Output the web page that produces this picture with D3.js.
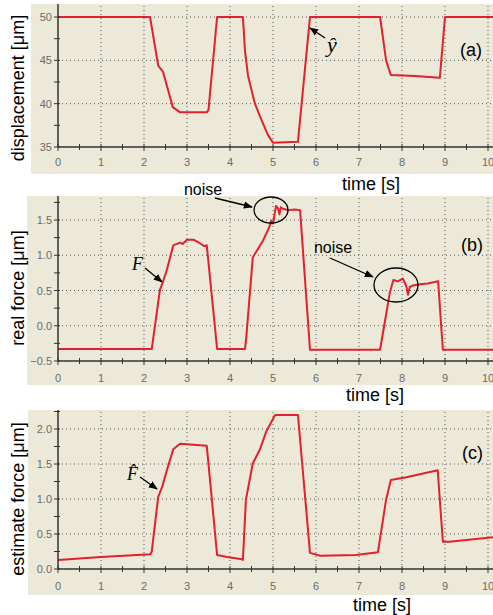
<!DOCTYPE html>
<meta charset="utf-8">
<style>
body { margin:0; background:#fff; }
svg { display:block; font-family: Arial, "Liberation Sans", sans-serif; }
.plotbg { fill:#ece9d8; }
.grid line { stroke:#555; stroke-width:1; stroke-dasharray:1,3; }
.axisline { stroke:#333; stroke-width:1.5; }
.tick { stroke:#333; stroke-width:1; }
.ticklabel { fill:#6a6a6a; font-size:11px; }
.trace { fill:none; stroke:#e3202c; stroke-width:2; stroke-linejoin:round; }
.note { stroke:#000; stroke-width:1.3; fill:none; }
</style>
<body>
<script src="https://cdnjs.cloudflare.com/ajax/libs/d3/7.8.5/d3.min.js"></script>
<script>

var width = 493, height = 615;

// time axis
var timeTicks = [0,1,2,3,4,5,6,7,8,9,10];

// (a) displacement [um], [t, value]
var displacement = [
  [0,50],[2.14,50],[2.33,44.4],[2.44,43.7],[2.67,39.6],[2.84,39.0],[3.46,39.0],[3.5,39.3],
  [3.7,50],[4.3,50],[4.35,46],[4.42,43.2],[4.58,40],[4.7,38.5],[4.88,36.4],[5.0,35.5],
  [5.58,35.6],[5.86,50],[7.49,50],[7.63,45],[7.74,43.3],[8.3,43.2],[8.88,43.0],[9.0,50],[10.2,50]
];
var dispTicks = [35,40,45,50];

// (b) real force [um]
var realForce = [
  [0,-0.33],[2.18,-0.33],[2.37,0.51],[2.44,0.62],[2.53,0.79],[2.68,1.14],[2.84,1.18],[2.9,1.16],
  [3.0,1.22],[3.15,1.22],[3.25,1.19],[3.3,1.17],[3.4,1.13],[3.46,1.14],[3.7,-0.33],[4.35,-0.33],
  [4.38,-0.15],[4.53,0.97],[4.77,1.21],[4.9,1.38],[4.96,1.49],[5.0,1.45],[5.07,1.70],[5.12,1.66],
  [5.15,1.58],[5.18,1.68],[5.23,1.66],[5.35,1.64],[5.5,1.65],[5.63,1.64],[5.86,-0.34],[7.49,-0.34],
  [7.72,0.48],[7.8,0.65],[7.9,0.63],[8.02,0.67],[8.1,0.56],[8.14,0.44],[8.18,0.55],[8.25,0.57],
  [8.42,0.59],[8.6,0.60],[8.84,0.63],[8.95,-0.34],[10.2,-0.34]
];
var realTicks = [-0.5,0.0,0.5,1.0,1.5];

// (c) estimated force [um]
var estForce = [
  [0,0.13],[1,0.17],[2.15,0.21],[2.18,0.25],[2.33,1.03],[2.42,1.17],[2.57,1.49],[2.68,1.71],
  [2.84,1.79],[3.46,1.76],[3.7,0.2],[3.93,0.17],[4.28,0.14],[4.3,0.13],[4.37,0.99],[4.53,1.51],
  [4.69,1.7],[4.84,1.96],[5.05,2.2],[5.58,2.2],[5.86,0.23],[6.1,0.19],[6.93,0.2],[7.44,0.24],
  [7.63,0.99],[7.74,1.27],[8.1,1.31],[8.83,1.41],[8.95,0.39],[9.1,0.39],[10.2,0.46]
];
var estTicks = [0.0,0.5,1.0,1.5,2.0];

var panels = [
  {data:displacement, ticks:dispTicks, minor:2.5, fmt:d3.format("d"), dom:[35,50],
   bg:[31,4,462,170], yr:[147,17], xlab:[162], ylabel:"displacement [\u03bcm]", ylx:18, yly:88,
   tlx:371, tly:190, tag:"(a)", tagx:482, tagy:56},
  {data:realForce, ticks:realTicks, minor:0.25, fmt:d3.format(".1f"), dom:[-0.5,1.5],
   bg:[27,196,466,189], yr:[361,220], xlab:[378], ylabel:"real force [\u03bcm]", ylx:18, yly:288,
   tlx:375, tly:401, tag:"(b)", tagx:483, tagy:251},
  {data:estForce, ticks:estTicks, minor:0.25, fmt:d3.format(".1f"), dom:[0,2],
   bg:[28,410,465,185], yr:[569,429], xlab:[586], ylabel:"estimate force [\u03bcm]", ylx:18, yly:499,
   tlx:382, tly:611, tag:"(c)", tagx:483, tagy:459}
];

var svg = d3.select("body").append("svg")
    .attr("width", width)
    .attr("height", height);

var defs = svg.append("defs");
defs.append("marker")
    .attr("id","arrow")
    .attr("viewBox","0 0 10 10")
    .attr("refX",9).attr("refY",5)
    .attr("markerWidth",7).attr("markerHeight",7)
    .attr("orient","auto")
  .append("path")
    .attr("d","M0,1 L10,5 L0,9 Z")
    .attr("fill","#000");

var x = d3.scaleLinear().domain([0,10]).range([58,488]);

panels.forEach(function(p){
    var g = svg.append("g");
    var bx = p.bg[0], by = p.bg[1], bw = p.bg[2], bh = p.bg[3];
    var y = d3.scaleLinear().domain(p.dom).range(p.yr);
    var y0 = y(p.dom[0]);

    g.append("rect").attr("class","plotbg")
        .attr("x",bx).attr("y",by).attr("width",bw).attr("height",bh);

    // grid
    var grid = g.append("g").attr("class","grid");
    grid.selectAll(".vg").data(timeTicks.slice(1))
      .enter().append("line")
        .attr("x1",function(d){return x(d);}).attr("x2",function(d){return x(d);})
        .attr("y1",by+2).attr("y2",y0);
    grid.selectAll(".hg").data(p.ticks.slice(1))
      .enter().append("line")
        .attr("x1",x(0)).attr("x2",bx+bw)
        .attr("y1",function(d){return y(d);}).attr("y2",function(d){return y(d);});

    // data
    var line = d3.line()
        .x(function(d){return x(d[0]);})
        .y(function(d){return y(d[1]);});
    g.append("clipPath").attr("id","clip"+by)
      .append("rect").attr("x",x(0)).attr("y",by).attr("width",bw).attr("height",bh);
    g.append("path").attr("class","trace")
        .attr("clip-path","url(#clip"+by+")")
        .attr("d", line(p.data));

    // axes
    g.append("line").attr("class","axisline")
        .attr("x1",x(0)).attr("x2",x(0)).attr("y1",by).attr("y2",y0);
    g.append("line").attr("class","axisline")
        .attr("x1",x(0)).attr("x2",bx+bw).attr("y1",y0).attr("y2",y0);

    var minorX = d3.range(0,10.01,0.5);
    g.selectAll(".xt").data(minorX)
      .enter().append("line").attr("class","tick")
        .attr("x1",function(d){return x(d);}).attr("x2",function(d){return x(d);})
        .attr("y1",y0-3).attr("y2",function(d){return d%1===0 ? y0+4 : y0+3;});
    g.selectAll(".xl").data(timeTicks)
      .enter().append("text").attr("class","ticklabel")
        .attr("x",function(d){return x(d);}).attr("y",p.xlab[0]+4)
        .attr("text-anchor","middle")
        .text(function(d){return d;});

    var minorY = d3.range(p.dom[0], y.invert(by), p.minor);
    g.selectAll(".yt").data(minorY)
      .enter().append("line").attr("class","tick")
        .attr("x1",x(0)-4).attr("x2",x(0)+2)
        .attr("y1",function(d){return y(d);}).attr("y2",function(d){return y(d);});
    g.selectAll(".yl").data(p.ticks)
      .enter().append("text").attr("class","ticklabel")
        .attr("x",x(0)-6).attr("y",function(d){return y(d)+4;})
        .attr("text-anchor","end")
        .text(function(d){return p.fmt(d);});

    // labels
    g.append("text")
        .attr("transform","translate("+(p.ylx+6)+","+p.yly+") rotate(-90)")
        .attr("text-anchor","middle")
        .attr("font-size","18px")
        .text(p.ylabel);
    g.append("text")
        .attr("x",p.tlx).attr("y",p.tly)
        .attr("text-anchor","middle")
        .attr("font-size","18px")
        .text("time [s]");
    g.append("text")
        .attr("x",p.tagx).attr("y",p.tagy)
        .attr("text-anchor","end")
        .attr("font-size","18px")
        .text(p.tag);
});

// annotations
function arrow(x1,y1,x2,y2){
    svg.append("line").attr("class","note")
        .attr("x1",x1).attr("y1",y1).attr("x2",x2).attr("y2",y2)
        .attr("marker-end","url(#arrow)");
}
function serif(t,xx,yy,size){
    return svg.append("text")
        .attr("x",xx).attr("y",yy)
        .attr("font-family","'Liberation Serif','DejaVu Serif',serif")
        .attr("font-style","italic")
        .attr("font-size",size)
        .text(t);
}

serif("\u0177",327,52,"22px");
arrow(325,38,310,28);

serif("F",132,270,"18px");
arrow(145,268,162,282);

serif("F\u0302",127,480,"18px");
arrow(140,477,157,489);

svg.append("text").attr("x",203).attr("y",195).attr("text-anchor","middle")
    .attr("font-size","16px").text("noise");
arrow(215,198,252,207);
svg.append("ellipse").attr("class","note")
    .attr("cx",271).attr("cy",210).attr("rx",17).attr("ry",13);

svg.append("text").attr("x",333).attr("y",253).attr("text-anchor","middle")
    .attr("font-size","16px").text("noise");
arrow(330,258,373,277);
svg.append("ellipse").attr("class","note")
    .attr("cx",396).attr("cy",285).attr("rx",22).attr("ry",17);

</script>
